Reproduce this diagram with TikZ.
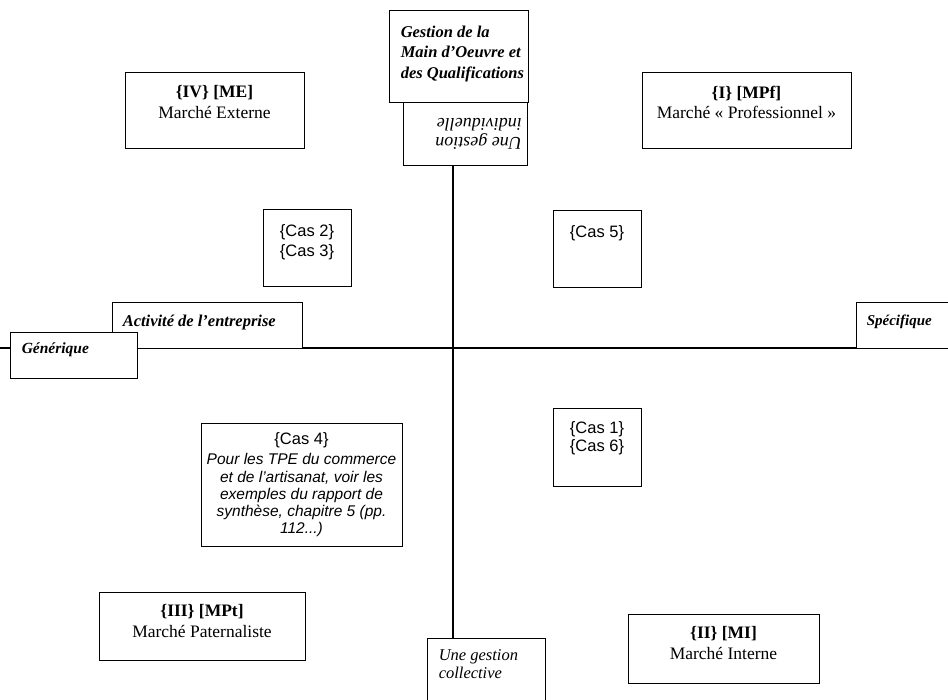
\documentclass[tikz,border=0pt]{standalone}
\usepackage{fontspec}
\setmainfont{Liberation Serif}
\setsansfont{Liberation Sans}
\tikzset{
  box/.style={draw=black, fill=white, line width=0.9pt, inner sep=0pt},
  axis/.style={draw=black, line width=1.6pt},
  corner/.style={anchor=north, align=center, inner sep=0pt, font=\fontsize{17.5}{20.5}\selectfont},
  cas/.style={anchor=north, align=center, inner sep=0pt, font=\sffamily\fontsize{16.5}{19.5}\selectfont},
  lbl/.style={anchor=north west, align=left, inner sep=0pt, font=\bfseries\itshape\fontsize{15.5}{18}\selectfont},
}
\begin{document}
\begin{tikzpicture}[x=1pt, y=-1pt]
\useasboundingbox (0,0) rectangle (948,699);
\clip (0,0) rectangle (948,699);
% axes
\coordinate (axL) at (0,348);
\coordinate (axR) at (948,348);
\coordinate (axT) at (453,165);
\coordinate (axB) at (453,638);
\draw[axis] (axL) -- (axR);
\draw[axis] (axT) -- (axB);
% vertical axis labels
\node[box, minimum width=124, minimum height=63] (ind) at (465,133.5) {};
\node[lbl, font=\itshape\fontsize{18}{19}\selectfont, rotate=180] (indT) at (522,150) {Une gestion\\individuelle};
\node[box, minimum width=139, minimum height=92] (gest) at (458.5,56) {};
\node[lbl, font=\bfseries\itshape\fontsize{16.5}{20.5}\selectfont] (gestT) at ([shift={(12,16)}]gest.north west) {Gestion de la\\Main d’Oeuvre et\\des Qualifications};
\node[box, minimum width=118, minimum height=82] (coll) at (486,679) {};
\node[lbl, font=\itshape\fontsize{16.5}{18}\selectfont] (collT) at ([shift={(12,12)}]coll.north west) {Une gestion\\collective};
% horizontal axis labels
\node[box, minimum width=190, minimum height=46] (act) at (207,325) {};
\node[lbl, font=\bfseries\itshape\fontsize{16.5}{18}\selectfont] (actT) at ([shift={(11,13)}]act.north west) {Activité de l’entreprise};
\node[box, minimum width=127, minimum height=46] (gen) at (73.5,355) {};
\node[lbl] (genT) at ([shift={(12,11)}]gen.north west) {Générique};
\node[box, minimum width=104, minimum height=46] (spec) at (908,325) {};
\node[lbl, font=\bfseries\itshape\fontsize{15}{18}\selectfont] (specT) at ([shift={(11,13)}]spec.north west) {Spécifique};
% markets
\node[box, minimum width=179, minimum height=76] (IV) at (214.5,110) {};
\node[corner] (IVt) at ([yshift=-14pt]IV.north) {\textbf{\{IV\} [ME]}\\Marché Externe};
\node[box, minimum width=209, minimum height=76] (I) at (746.5,110) {};
\node[corner] (It) at ([yshift=-14pt]I.north) {\textbf{\{I\} [MPf]}\\Marché «~Professionnel~»};
\node[box, minimum width=206, minimum height=68] (III) at (202,626) {};
\node[corner] (IIIt) at ([yshift=-13pt]III.north) {\textbf{\{III\} [MPt]}\\Marché Paternaliste};
\node[box, minimum width=191, minimum height=69] (II) at (723.5,648.5) {};
\node[corner] (IIt) at ([yshift=-13pt]II.north) {\textbf{\{II\} [MI]}\\Marché Interne};
% cases
\node[box, minimum width=88, minimum height=77] (c23) at (307,247.5) {};
\node[cas] (c23t) at ([yshift=-16pt]c23.north) {\{Cas 2\}\\\{Cas 3\}};
\node[box, minimum width=88, minimum height=77] (c5) at (597,248.5) {};
\node[cas] (c5t) at ([yshift=-16pt]c5.north) {\{Cas 5\}};
\node[box, minimum width=88, minimum height=78] (c16) at (597,447) {};
\node[cas, font=\sffamily\fontsize{16.5}{18}\selectfont] (c16t) at ([yshift=-14pt]c16.north) {\{Cas 1\}\\\{Cas 6\}};
\node[box, minimum width=201, minimum height=123] (c4) at (301.5,484.5) {};
\node[cas, font=\sffamily\fontsize{15.5}{17.2}\selectfont] (c4t) at ([yshift=-10pt]c4.north) {{\fontsize{16.5}{17}\selectfont\{Cas 4\}}\\[3pt]\textit{Pour les TPE du commerce}\\\textit{et de l’artisanat, voir les}\\\textit{exemples du rapport de}\\\textit{synthèse, chapitre 5 (pp.}\\\textit{112...)}};
\end{tikzpicture}
\end{document}
